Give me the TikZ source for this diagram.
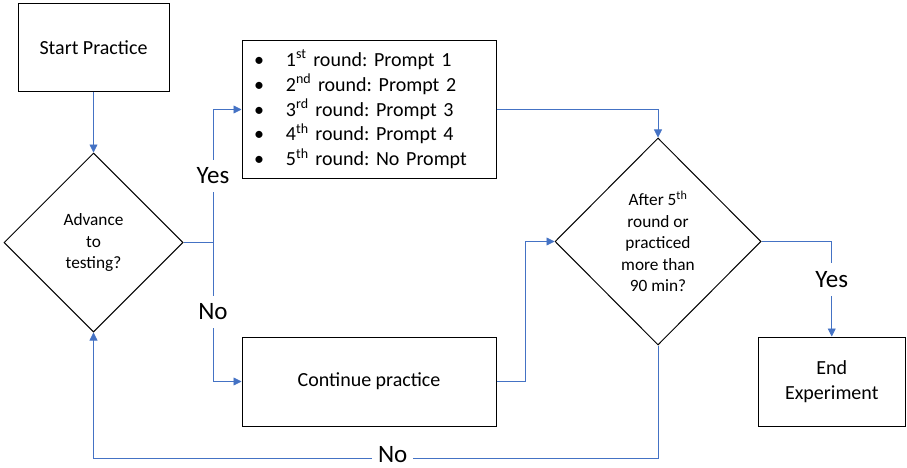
\documentclass[tikz,border=0pt]{standalone}
\usepackage{fontspec}
\setmainfont{Carlito}
\frenchspacing
\usetikzlibrary{shapes.geometric,arrows.meta}
\definecolor{flowblue}{HTML}{4472C4}
\begin{document}
\begin{tikzpicture}[x=1pt,y=-1pt,
  box/.style={draw=black,line width=1pt,inner sep=0pt,align=center,
    font=\fontsize{20}{25.5}\selectfont},
  dia/.style={draw=black,line width=1pt,shape=diamond,inner sep=0pt,align=center,
    font=\fontsize{17.3}{21.5}\selectfont},
  flow/.style={draw=flowblue,line width=0.8pt},
  arr/.style={flow,-{Triangle[length=8pt,width=8pt]},color=flowblue},
  lbl/.style={fill=white,text=black,inner xsep=6pt,inner ysep=8pt,
    font=\fontsize{25}{30}\selectfont}]
\useasboundingbox (0,0) rectangle (907,468);
\node[box,minimum width=151pt,minimum height=88pt] (start) at (93.5,47.5) {Start Practice};
\node[dia,minimum width=179pt,minimum height=179pt] (adv) at (93.5,242.5) {Advance\\to\\testing?};
\node[box,minimum width=254pt,minimum height=137pt,text width=230pt,align=left,
  inner xsep=12pt,font=\fontsize{20}{24.8}\selectfont] (rounds) at (369,109.5)
  {\makebox[32pt][l]{•}1\textsuperscript{st} round: Prompt 1\\
   \makebox[32pt][l]{•}2\textsuperscript{nd} round: Prompt 2\\
   \makebox[32pt][l]{•}3\textsuperscript{rd} round: Prompt 3\\
   \makebox[32pt][l]{•}4\textsuperscript{th} round: Prompt 4\\
   \makebox[32pt][l]{•}5\textsuperscript{th} round: No Prompt};
\node[box,minimum width=254pt,minimum height=89pt] (cont) at (369,381.5) {Continue practice};
\node[dia,minimum width=206pt,minimum height=207pt] (chk) at (658,241.5)
  {After 5\textsuperscript{th}\\round or\\practiced\\more than\\90 min?};
\node[box,minimum width=147.5pt,minimum height=89pt] (end) at (831.75,381.5) {End\\Experiment};
\coordinate (j) at (213,242.5);
\coordinate (up) at (525,381.5);
\coordinate (low) at (658,458);
\draw[arr] (start.south) -- (adv.north);
\draw[flow] (adv.east) -- (j);
\draw[arr] (j) |- node[lbl,pos=0.25]{Yes} (rounds.west);
\draw[arr] (j) |- node[lbl,pos=0.25]{No} (cont.west);
\draw[arr] (rounds.east) -| (chk.north);
\draw[arr] (cont.east) -- (up) |- (chk.west);
\draw[arr] (chk.east) -| node[lbl,pos=0.7]{Yes} (end.north);
\draw[arr] (chk.south) -- (low) -| node[lbl,pos=0.235,inner ysep=0pt,yshift=3pt]{No} (adv.south);
\end{tikzpicture}
\end{document}
